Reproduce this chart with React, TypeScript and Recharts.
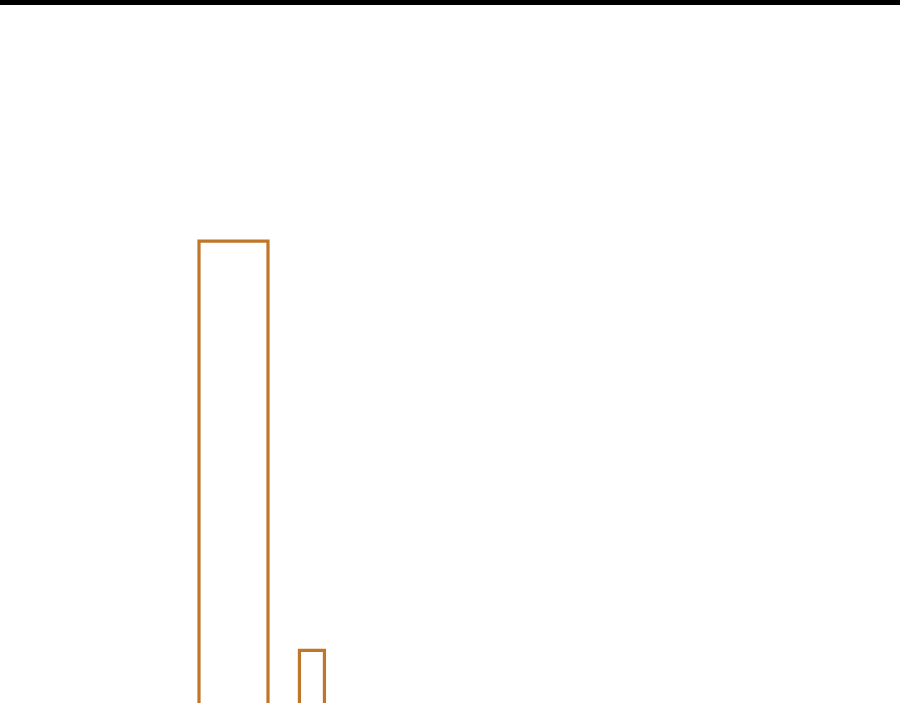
import React from "react";
import { ComposedChart, Bar, XAxis, YAxis } from "recharts";

const categories = ["c1", "c2", "c3", "c4", "c5", "c6", "c7", "c8", "c9"];
const seriesWide = [70, null, null, null, null, null, null, null, null];
const seriesNarrow = [null, 15, null, null, null, null, null, null, null];

const data = categories.map((name, i) => ({
  name,
  wide: seriesWide[i],
  narrow: seriesNarrow[i],
}));

const BAR_COLOR = "#c07628";

export default function App() {
  return (
    <div
      style={{
        position: "absolute",
        left: 0,
        top: 0,
        width: 900,
        height: 703,
        overflow: "hidden",
        background: "#ffffff",
      }}
    >
      <div
        style={{
          position: "absolute",
          left: 0,
          top: 0,
          width: 900,
          height: 5,
          background: "#000000",
          zIndex: 2,
        }}
      />
      <ComposedChart
        width={900}
        height={762}
        data={data}
        margin={{ top: 18, right: 0, bottom: 0, left: 194 }}
      >
        <XAxis xAxisId="a" dataKey="name" hide />
        <XAxis xAxisId="b" dataKey="name" hide />
        <YAxis hide domain={[0, 100]} />
        <Bar
          xAxisId="a"
          dataKey="wide"
          barSize={69}
          fill="#ffffff"
          stroke={BAR_COLOR}
          strokeWidth={3.2}
          isAnimationActive={false}
        />
        <Bar
          xAxisId="b"
          dataKey="narrow"
          barSize={25}
          fill="#ffffff"
          stroke={BAR_COLOR}
          strokeWidth={3.2}
          isAnimationActive={false}
        />
      </ComposedChart>
    </div>
  );
}
